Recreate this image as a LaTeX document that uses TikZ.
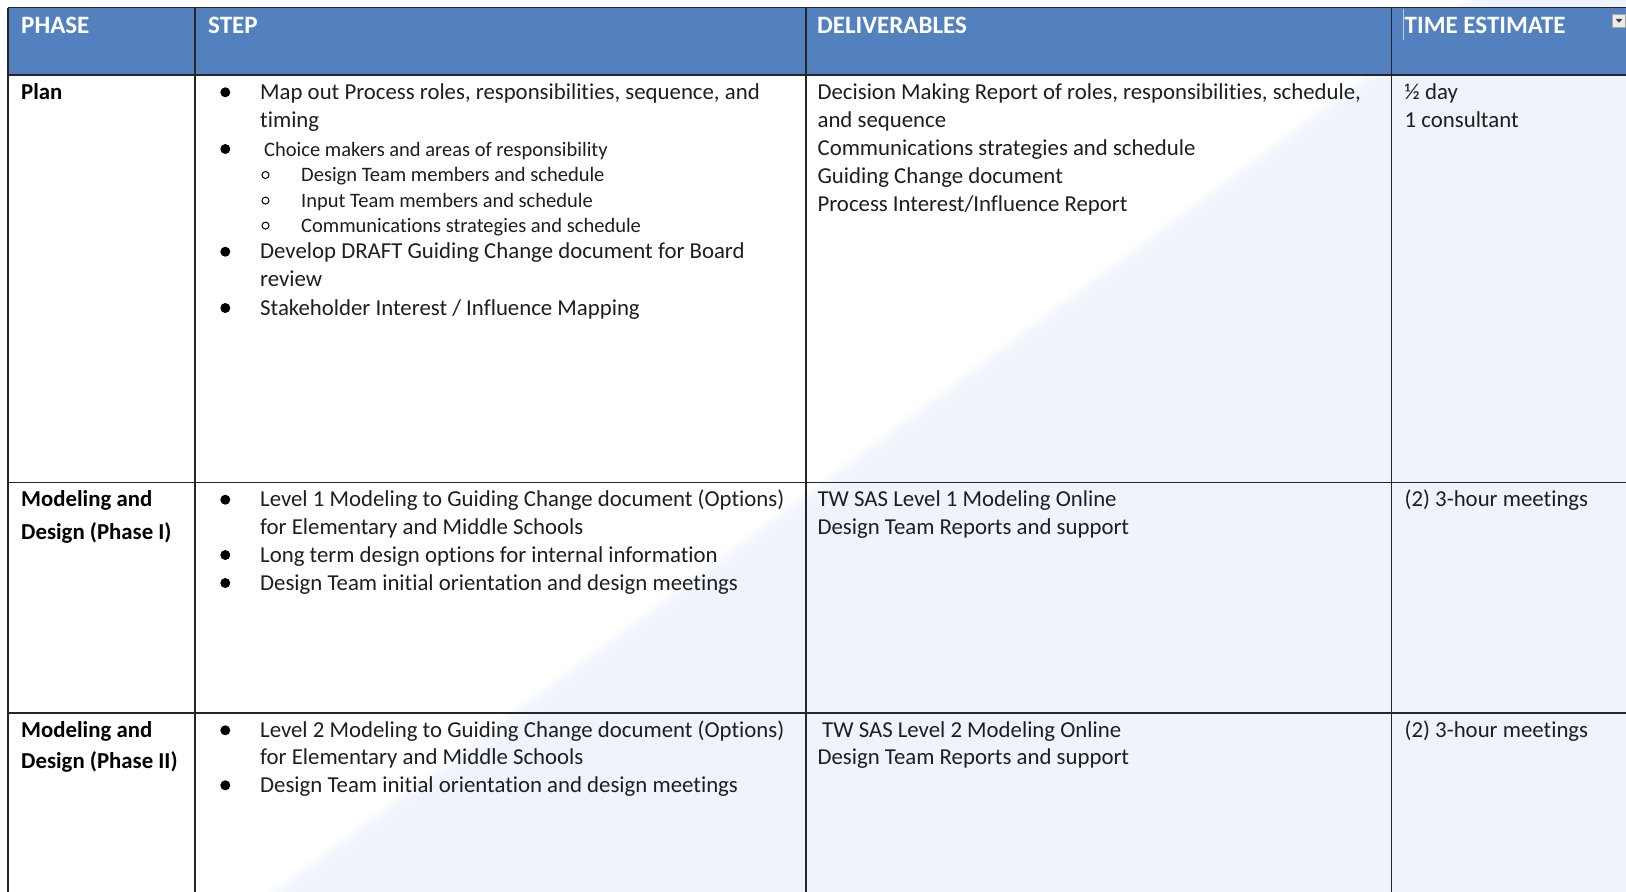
\documentclass[tikz,border=0pt]{standalone}
\usepackage{fontspec}
\usetikzlibrary{calc}
\setmainfont[Ligatures={NoCommon,NoContextual}]{Carlito}
\newcommand\bodyf{\fontsize{22.8pt}{28pt}\selectfont}
\newcommand\smallf{\fontsize{20.5pt}{25pt}\selectfont}
\newcommand\headf{\fontsize{25pt}{30pt}\selectfont\bfseries}
\definecolor{hdrblue}{HTML}{5381C0}
\definecolor{bgblue}{HTML}{EEF3FC}
\definecolor{txtc}{HTML}{1E1E1E}
\definecolor{rulec}{HTML}{262626}
\tikzset{
  txt/.style={anchor=base west, inner sep=0pt, font=\bodyf, text=txtc},
  smalltxt/.style={anchor=base west, inner sep=0pt, font=\smallf, text=txtc},
  boldtxt/.style={anchor=base west, inner sep=0pt, font=\bodyf\bfseries, text=black},
  headtxt/.style={anchor=base west, inner sep=0pt, font=\headf, text=white},
  bul/.style={circle, fill=black, inner sep=0pt, minimum size=10pt},
  subbul/.style={circle, draw=black, line width=1pt, inner sep=0pt, minimum size=7pt},
  rule/.style={draw=rulec, line width=1.8pt},
}
\begin{document}
\begin{tikzpicture}[x=1pt, y=-1pt]
\useasboundingbox (0,0) rectangle (1626,892);
% background with soft diagonal tint
\fill[white] (0,0) rectangle (1626,892);
\foreach \d in {-30,-24,...,30}{
  \fill[bgblue, opacity=0.26] (1494+\d,0) -- (1626,0) -- (1626,892) -- (298.7+\d,892) -- cycle;
}
% header band
\fill[hdrblue] (8,7.5) rectangle (1626,75);
% dropdown icon
\node[draw=gray!70, fill=gray!15, minimum width=13pt, minimum height=13pt, inner sep=0pt] (dd) at (1619,20.3) {};
\fill[black!75] ($(dd.center)+(-3.5,-1.5)$) -- ($(dd.center)+(3.5,-1.5)$) -- ($(dd.center)+(0,2.5)$) -- cycle;
% grid coordinates
\coordinate (tl) at (8,7.5);
\coordinate (tr) at (1626,7.5);
\coordinate (bl) at (8,892);
\coordinate (h1) at (8,75);   \coordinate (h2) at (1626,75);
\coordinate (r1a) at (8,482.5); \coordinate (r1b) at (1626,482.5);
\coordinate (r2a) at (8,712.8); \coordinate (r2b) at (1626,712.8);
\coordinate (c1t) at (195,7.5);  \coordinate (c1b) at (195,892);
\coordinate (c2t) at (806,7.5);  \coordinate (c2b) at (806,892);
\coordinate (c3t) at (1391.5,7.5); \coordinate (c3b) at (1391.5,892);
\draw[rule] (tl) -- (tr);
\draw[rule] (tl) -- (bl);
\draw[rule] (h1) -- (h2);
\draw[rule] (r1a) -- (r1b);
\draw[rule] (r2a) -- (r2b);
\draw[rule] (c1t) -- (c1b);
\draw[rule] (c2t) -- (c2b);
\draw[rule] (c3t) -- (c3b);
% cursor
\coordinate (cur1) at (1403,9); \coordinate (cur2) at (1403,40);
\draw[gray!40, line width=0.9pt] (cur1) -- (cur2);
% header texts
\node[headtxt] (hph) at (21,33.5) {PHASE};
\node[headtxt] (hst) at (208,33.5) {STEP};
\node[headtxt] (hdl) at (817,33.5) {DELIVERABLES};
\node[headtxt] (hte) at (1404.5,33.5) {TIME ESTIMATE};
% ---- Row 1 ----
\node[boldtxt] (p1) at (21,99.3) {Plan};
\node[bul] (b1) at (225.3,92.3) {};
\node[txt] (s1a) at (260,99.3) {Map out Process roles, responsibilities, sequence, and};
\node[txt] (s1b) at (260,127) {timing};
\node[bul] (b2) at (225.3,149) {};
\node[smalltxt] (s1c) at (264,156) {Choice makers and areas of responsibility};
\node[subbul] (sb1) at (265.5,175) {};
\node[smalltxt] (s1d) at (301,181.7) {Design Team members and schedule};
\node[subbul] (sb2) at (265.5,200.6) {};
\node[smalltxt] (s1e) at (301,207.3) {Input Team members and schedule};
\node[subbul] (sb3) at (265.5,225.6) {};
\node[smalltxt] (s1f) at (301,232.3) {Communications strategies and schedule};
\node[bul] (b3) at (225.3,251.7) {};
\node[txt] (s1g) at (260,258.7) {Develop DRAFT Guiding Change document for Board};
\node[txt] (s1h) at (260,286.7) {review};
\node[bul] (b4) at (225.3,308) {};
\node[txt] (s1i) at (260,315) {Stakeholder Interest / Influence Mapping};
\node[txt] (d1a) at (817.4,99.3) {Decision Making Report of roles, responsibilities, schedule,};
\node[txt] (d1b) at (817.4,127) {and sequence};
\node[txt] (d1c) at (817.4,155) {Communications strategies and schedule};
\node[txt] (d1d) at (817.4,183) {Guiding Change document};
\node[txt] (d1e) at (817.4,211) {Process Interest/Influence Report};
\node[txt] (t1a) at (1404.5,99.3) {½ day};
\node[txt] (t1b) at (1404.5,127) {1 consultant};
% ---- Row 2 ----
\node[boldtxt] (p2a) at (21,506.7) {Modeling and};
\node[boldtxt] (p2b) at (21,539.3) {Design (Phase I)};
\node[bul] (b5) at (225.3,499.7) {};
\node[txt] (s2a) at (260,506.7) {Level 1 Modeling to Guiding Change document (Options)};
\node[txt] (s2b) at (260,534) {for Elementary and Middle Schools};
\node[bul] (b6) at (225.3,555) {};
\node[txt] (s2c) at (260,562) {Long term design options for internal information};
\node[bul] (b7) at (225.3,583) {};
\node[txt] (s2d) at (260,590) {Design Team initial orientation and design meetings};
\node[txt] (d2a) at (817.4,506.7) {TW SAS Level 1 Modeling Online};
\node[txt] (d2b) at (817.4,534) {Design Team Reports and support};
\node[txt] (t2a) at (1404.5,506.7) {(2) 3-hour meetings};
% ---- Row 3 ----
\node[boldtxt] (p3a) at (21,737.3) {Modeling and};
\node[boldtxt] (p3b) at (21,768.3) {Design (Phase II)};
\node[bul] (b8) at (225.3,730.3) {};
\node[txt] (s3a) at (260,737.3) {Level 2 Modeling to Guiding Change document (Options)};
\node[txt] (s3b) at (260,764.5) {for Elementary and Middle Schools};
\node[bul] (b9) at (225.3,785.3) {};
\node[txt] (s3c) at (260,792.3) {Design Team initial orientation and design meetings};
\node[txt] (d3a) at (822,737.3) {TW SAS Level 2 Modeling Online};
\node[txt] (d3b) at (817.4,764.5) {Design Team Reports and support};
\node[txt] (t3a) at (1404.5,737.3) {(2) 3-hour meetings};
\end{tikzpicture}
\end{document}
